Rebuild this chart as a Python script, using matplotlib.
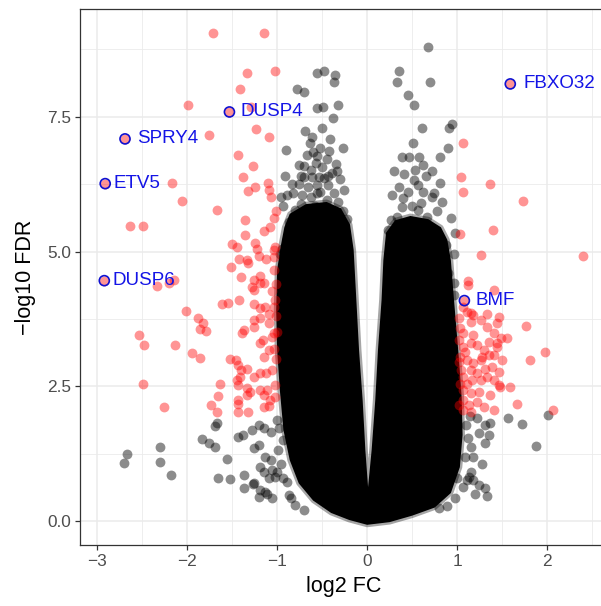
import numpy as np
import matplotlib
matplotlib.use("Agg")
import matplotlib.pyplot as plt
from matplotlib.ticker import MultipleLocator, FormatStrFormatter

plt.rcParams['font.family'] = ['Liberation Sans', 'DejaVu Sans']

# labelled genes
gene_names = ["FBXO32", "DUSP4", "SPRY4", "ETV5", "DUSP6", "BMF"]
gene_fc = [1.59, -1.53, -2.69, -2.91, -2.92, 1.08]
gene_fdr = [8.11, 7.59, 7.09, 6.26, 4.46, 4.09]

# significant genes, (log2 FC, -log10 FDR)
sig_left = [
    (-1.71, 9.05), (-1.15, 9.05), (-1.33, 8.32), (-1.02, 8.35), (-1.41, 8.02),
    (-1.99, 7.72), (-1.29, 7.68), (-1.23, 7.27), (-1.09, 7.12), (-1.76, 7.17),
    (-1.43, 6.80), (-1.27, 6.59), (-1.38, 6.39), (-2.17, 6.28), (-2.06, 5.94),
    (-1.67, 5.77), (-1.32, 6.13), (-1.25, 6.20), (-1.10, 6.27), (-1.09, 6.14),
    (-1.07, 6.01), (-1.01, 5.75), (-1.04, 5.63), (-1.36, 5.58), (-1.08, 5.45),
    (-1.15, 5.39), (-1.36, 5.31), (-2.63, 5.47), (-2.49, 5.47), (-1.50, 5.14),
    (-1.45, 5.09), (-1.25, 5.15), (-1.22, 5.04), (-1.02, 5.09), (-1.04, 5.03),
    (-1.42, 4.87), (-1.33, 4.84), (-1.32, 4.78), (-1.20, 4.92), (-1.12, 4.86),
    (-1.03, 4.90), (-1.51, 4.72), (-1.40, 4.53), (-1.19, 4.55), (-1.26, 4.47),
    (-1.15, 4.41), (-1.28, 4.35), (-2.15, 4.47), (-2.34, 4.37), (-2.20, 4.41),
    (-2.01, 3.90), (-1.88, 3.77), (-1.82, 3.68), (-1.86, 3.56), (-1.79, 3.53),
    (-2.53, 3.45), (-2.48, 3.27), (-2.13, 3.27), (-1.95, 3.11), (-1.86, 3.02),
    (-2.49, 2.54), (-2.26, 2.12), (-1.61, 4.03), (-1.55, 4.04), (-1.42, 4.11),
    (-1.26, 4.29), (-1.19, 4.41), (-1.26, 4.03), (-1.19, 3.95), (-1.13, 3.98),
    (-1.04, 3.98), (-1.06, 4.27), (-1.09, 3.85), (-1.26, 3.73), (-1.19, 3.76),
    (-1.09, 3.67), (-1.37, 3.54), (-1.39, 3.49), (-1.26, 3.60), (-1.16, 3.36),
    (-1.19, 3.30), (-1.04, 3.48), (-1.06, 3.42), (-1.00, 3.51), (-1.09, 3.17),
    (-1.04, 3.20), (-1.52, 3.00), (-1.46, 2.99), (-1.44, 2.89), (-1.40, 2.80),
    (-1.34, 2.83), (-1.15, 3.05), (-1.45, 2.62), (-1.44, 2.52), (-1.41, 2.68),
    (-1.33, 2.46), (-1.30, 2.40), (-1.33, 2.34), (-1.44, 2.24), (-1.43, 2.18),
    (-1.44, 2.03), (-1.32, 2.03), (-1.26, 2.68), (-1.19, 2.75), (-1.12, 2.74),
    (-1.06, 2.80), (-1.19, 2.43), (-1.11, 2.44), (-1.15, 2.34), (-1.08, 2.24),
    (-1.15, 2.12), (-1.09, 2.13), (-1.02, 2.52), (-1.64, 2.54), (-1.66, 2.32),
    (-1.73, 2.15), (-1.67, 2.03), (-1.01, 4.40), (-1.02, 4.10), (-1.01, 3.80),
    (-1.01, 3.00), (-1.02, 2.30), (-1.03, 4.65),
]
sig_right = [
    (1.06, 7.01), (1.04, 6.39), (1.37, 6.25), (1.07, 6.11), (1.73, 5.94),
    (1.40, 5.40), (1.03, 5.32), (1.26, 4.94), (2.40, 4.92), (1.12, 4.46),
    (1.12, 4.38), (1.41, 4.29), (1.33, 3.85), (1.47, 3.79), (1.44, 3.67),
    (1.76, 3.62), (1.15, 3.70), (1.02, 3.76), (1.07, 3.98), (1.15, 3.86),
    (1.41, 3.48), (1.49, 3.39), (1.55, 3.39), (1.35, 3.33), (1.44, 3.31),
    (1.98, 3.14), (1.81, 2.99), (1.07, 3.48), (1.18, 3.45), (1.22, 3.27),
    (1.30, 3.17), (1.35, 3.08), (1.41, 3.08), (1.11, 2.99), (1.18, 2.93),
    (1.26, 2.99), (1.31, 2.83), (1.39, 2.86), (1.46, 2.77), (1.06, 2.68),
    (1.11, 2.55), (1.17, 2.62), (1.26, 2.62), (1.33, 2.68), (1.41, 2.62),
    (1.48, 2.49), (1.59, 2.48), (1.07, 2.43), (1.15, 2.37), (1.24, 2.40),
    (1.37, 2.34), (1.06, 2.24), (1.13, 2.15), (1.22, 2.21), (1.30, 2.12),
    (1.41, 2.06), (1.67, 2.18), (2.07, 2.06), (1.07, 2.06), (1.15, 2.03),
    (1.03, 3.58), (1.06, 3.23), (1.03, 3.05), (1.04, 2.80), (1.09, 3.14),
    (1.15, 3.30), (1.28, 3.05), (1.44, 3.23), (1.50, 2.99), (1.33, 3.60),
    (1.18, 3.82), (1.26, 3.73), (1.15, 2.80), (1.22, 2.74), (1.11, 3.88),
    (1.46, 2.52), (1.02, 3.35), (1.02, 2.95), (1.03, 2.55), (1.02, 2.15),
]

# non-significant genes lying outside the dense core
ns_points = [
    # left arm, upper part
    (-0.56, 8.32), (-0.48, 8.35), (-0.36, 8.27), (-0.37, 8.15), (-0.78, 8.01),
    (-0.70, 7.96), (-0.56, 7.66), (-0.49, 7.68), (-0.32, 7.72), (-0.38, 7.47),
    (-0.69, 7.24), (-0.61, 7.13), (-0.50, 7.29), (-0.41, 7.08), (-0.63, 7.01),
    (-0.27, 6.93), (-0.67, 6.79), (-0.56, 6.77), (-0.76, 6.60), (-0.70, 6.59),
    (-0.70, 6.39), (-0.54, 6.39), (-0.48, 6.36), (-0.43, 6.40), (-0.39, 6.45),
    (-0.56, 6.23), (-0.44, 6.23), (-0.90, 6.88), (-0.57, 6.64), (-0.91, 6.40),
    (-0.61, 6.39), (-0.96, 6.02), (-0.89, 6.05), (-0.82, 6.08), (-0.72, 6.05),
    (-0.62, 6.02), (-0.56, 6.08), (-0.80, 5.77), (-0.67, 5.58), (-0.87, 5.55),
    (-0.82, 5.40), (-0.89, 5.24), (-0.93, 4.72), (-0.52, 6.11), (-0.37, 6.08),
    (-0.32, 5.92), (-0.62, 6.52), (-0.50, 6.56), (-0.45, 6.72), (-0.35, 6.62),
    (-0.30, 6.35), (-0.76, 6.25), (-0.66, 6.20), (-0.42, 6.86), (-0.52, 6.92),
    (-0.60, 6.85), (-0.26, 6.15), (-0.84, 6.25), (-0.94, 5.85), (-0.74, 6.40),
    (-0.33, 6.50), (-0.27, 5.75), (-0.95, 5.05), (-0.97, 4.95), (-0.74, 5.88),
    (-0.45, 5.95), (-0.22, 5.60), (-0.58, 5.85),
    # right arm, upper part
    (0.68, 8.80), (0.35, 8.35), (0.33, 8.15), (0.70, 8.15), (0.45, 7.90),
    (0.52, 7.72), (0.61, 7.29), (0.94, 7.37), (0.91, 7.29), (0.51, 7.02),
    (0.90, 6.93), (0.39, 6.76), (0.46, 6.76), (0.58, 6.76), (0.81, 6.76),
    (0.41, 6.44), (0.53, 6.51), (0.52, 6.33), (0.56, 6.23), (0.81, 6.28),
    (0.74, 6.09), (0.72, 6.02), (0.83, 5.92), (0.93, 5.63), (0.98, 5.34),
    (0.88, 5.12), (0.81, 4.87), (0.87, 4.72), (0.90, 4.60), (0.96, 4.42),
    (0.26, 5.58), (0.33, 5.65), (0.39, 5.83), (0.56, 5.77), (0.67, 5.65),
    (0.35, 6.20), (0.45, 6.10), (0.62, 6.10), (0.65, 6.40), (0.30, 6.50),
    (0.62, 6.60), (0.28, 6.05), (0.40, 6.00), (0.72, 6.50), (0.60, 5.90),
    (0.96, 4.95), (0.97, 4.20), (0.50, 5.85), (0.78, 5.75), (0.23, 5.40),
    # right side, low FDR
    (1.57, 1.92), (1.72, 1.80), (2.01, 1.97), (1.88, 1.39), (1.22, 1.92),
    (1.31, 1.79), (1.37, 1.82), (1.24, 1.63), (1.35, 1.60), (1.31, 1.45),
    (1.28, 1.06), (1.15, 0.91), (1.13, 0.82), (1.18, 0.76), (1.24, 0.67),
    (1.31, 0.61), (1.33, 0.46), (1.20, 0.51), (1.11, 0.76), (1.00, 0.79),
    (1.06, 0.64), (0.98, 0.42), (0.89, 0.27), (0.80, 0.24), (1.15, 1.38),
    (1.09, 1.19), (1.18, 1.19), (1.10, 1.78), (1.12, 1.55), (1.14, 1.95),
    # left side, low FDR
    (-1.67, 1.81), (-1.69, 1.76), (-1.83, 1.52), (-1.76, 1.44), (-1.69, 1.38),
    (-2.30, 1.37), (-2.67, 1.24), (-2.70, 1.07), (-2.30, 1.10), (-2.18, 0.85),
    (-1.56, 1.16), (-1.66, 0.79), (-1.52, 0.78), (-1.37, 0.85), (-1.37, 0.61),
    (-1.26, 0.70), (-1.20, 0.45), (-1.19, 0.58), (-1.11, 0.51), (-1.06, 0.42),
    (-1.43, 1.56), (-1.38, 1.60), (-1.28, 1.69), (-1.20, 1.78), (-1.15, 1.72),
    (-1.07, 1.66), (-1.00, 1.87), (-1.26, 1.35), (-1.20, 1.41), (-1.13, 1.19),
    (-1.07, 1.13), (-1.19, 1.00), (-1.15, 0.91), (-1.09, 0.79), (-1.06, 0.95),
    (-1.00, 0.91), (-1.02, 0.82), (-1.27, 0.69), (-1.13, 0.54), (-0.94, 0.79),
    (-0.89, 0.73), (-0.87, 0.48), (-0.85, 0.42), (-0.99, 1.32), (-0.94, 1.50),
    (-0.98, 1.72), (-0.96, 1.05), (-0.80, 0.30), (-0.70, 0.20),
]

# outline of the dense core where non-significant genes overlap completely
core_outline = [
    (-0.86, 5.70), (-0.92, 5.45), (-0.96, 5.10), (-1.00, 4.66), (-1.01, 3.91),
    (-1.00, 3.17), (-0.97, 2.43), (-0.93, 1.69), (-0.86, 1.13), (-0.76, 0.70),
    (-0.60, 0.38), (-0.40, 0.15), (-0.20, 0.02), (0.00, -0.07), (0.25, -0.02),
    (0.50, 0.10), (0.75, 0.25), (0.93, 0.52), (1.03, 1.00), (1.06, 1.60),
    (1.05, 2.30), (1.02, 3.00), (0.99, 3.60), (0.96, 4.20), (0.93, 4.84),
    (0.89, 5.22), (0.82, 5.45), (0.68, 5.60), (0.48, 5.66), (0.31, 5.58),
    (0.21, 5.35), (0.18, 4.84), (0.16, 4.10), (0.12, 3.17), (0.09, 2.24),
    (0.05, 1.32), (0.01, 0.63), (-0.02, 1.32), (-0.05, 2.24), (-0.09, 3.17),
    (-0.12, 4.10), (-0.15, 5.03), (-0.19, 5.50), (-0.29, 5.80), (-0.45, 5.92),
    (-0.68, 5.88),
]

fig = plt.figure(figsize=(6.01, 6.06), dpi=100)
ax = fig.add_axes([80 / 601, 60.7 / 606, 527.5 / 601, 536.3 / 606])

core_x, core_y = zip(*core_outline)
ax.fill(core_x, core_y, facecolor='black', edgecolor=(0, 0, 0, 0.35),
        linewidth=3.5, joinstyle='round', zorder=2)

ns_x, ns_y = zip(*ns_points)
ax.scatter(ns_x, ns_y, s=50, color='black', alpha=0.45, linewidths=0, zorder=3)

sig = sig_left + sig_right + list(zip(gene_fc, gene_fdr))
sig_x, sig_y = zip(*sig)
ax.scatter(sig_x, sig_y, s=50, color='red', alpha=0.42, linewidths=0, zorder=4)

ax.scatter(gene_fc, gene_fdr, s=52, facecolors='none', edgecolors='#1010d0',
           linewidths=1.2, zorder=5)

# label offsets in points
label_dx = [9.6, 7.7, 8.9, 5.8, 6.0, 7.7]
for name, x, y, dx in zip(gene_names, gene_fc, gene_fdr, label_dx):
    ax.annotate(name, (x, y), xytext=(dx, 0), textcoords='offset points',
                ha='left', va='center', color='#1414e6', fontsize=13.5, zorder=6)

ax.set_xlim(-3.19, 2.67)
ax.set_ylim(-0.45, 9.50)
ax.xaxis.set_major_locator(MultipleLocator(1))
ax.xaxis.set_minor_locator(MultipleLocator(0.5))
ax.yaxis.set_major_locator(MultipleLocator(2.5))
ax.yaxis.set_minor_locator(MultipleLocator(1.25))
ax.yaxis.set_major_formatter(FormatStrFormatter('%.1f'))

ax.grid(which='major', color='#ebebeb', linewidth=1.1, zorder=0)
ax.grid(which='minor', color='#ebebeb', linewidth=0.6, zorder=0)
ax.set_axisbelow(True)

for side in ['top', 'left', 'bottom', 'right']:
    ax.spines[side].set_color('#333333')
    ax.spines[side].set_linewidth(0.9)
ax.tick_params(which='major', direction='out', length=3.5, width=0.9,
               color='#333333', labelcolor='#4d4d4d', labelsize=12.4, pad=3)
ax.tick_params(which='minor', length=0)

ax.set_xlabel('log2 FC', fontsize=15.5, labelpad=5)
ax.set_ylabel('\u2212log10 FDR', fontsize=15.5, labelpad=8)

fig.savefig('out.png', dpi=100)
